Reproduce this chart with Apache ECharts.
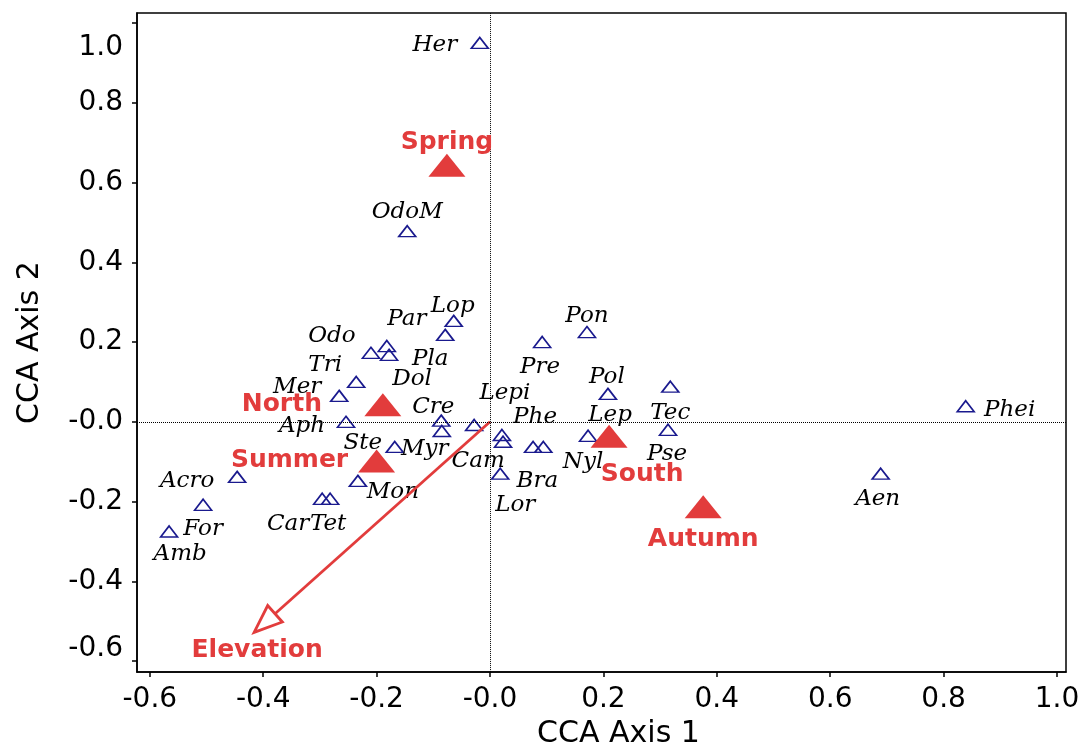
<!DOCTYPE html>
<html>
<head>
<meta charset="utf-8">
<script src="https://cdn.jsdelivr.net/npm/echarts@6/dist/echarts.min.js"></script>
<style>
html,body{margin:0;padding:0;background:#fff;}
#chart{width:1087px;height:754px;}
</style>
</head>
<body>
<div id="chart"></div>
<script>
// ---- data ----
const speciesNames = ['Her','OdoM','Lop','Pla','Par','Odo','Dol','Tri','Mer','Aph','Cre','Myr','Cam','Ste','Acro','Mon','Car','Tet','For','Amb',
  'Pre','Pon','Pol','Tec','Lepi','Phe','Nyl','Bra','Lep','Pse','Lor','Aen','Phei'];
const speciesX = [-0.018,-0.146,-0.064,-0.079,-0.182,-0.210,-0.178,-0.236,-0.266,-0.254,-0.086,-0.085,-0.028,-0.168,-0.446,-0.233,-0.296,-0.282,-0.506,-0.566,
  0.092,0.171,0.208,0.318,0.021,0.023,0.076,0.094,0.173,0.314,0.018,0.689,0.839];
const speciesY = [0.950,0.478,0.253,0.218,0.190,0.173,0.168,0.100,0.065,0.000,0.003,-0.023,-0.008,-0.063,-0.138,-0.148,-0.193,-0.193,-0.208,-0.275,
  0.200,0.225,0.070,0.088,-0.033,-0.050,-0.063,-0.063,-0.035,-0.020,-0.130,-0.130,0.039];

const envNames = ['Spring','North','Summer','South','Autumn'];
const envX = [-0.076,-0.189,-0.200,0.210,0.376];
const envY = [0.643,0.043,-0.098,-0.036,-0.213];

const gradientName = 'Elevation';
const gradientEnd = [-0.416,-0.528];

const xTicks = [-0.6,-0.4,-0.2,0,0.2,0.4,0.6,0.8,1.0];
const xTickLabels = ['-0.6','-0.4','-0.2','-0.0','0.2','0.4','0.6','0.8','1.0'];
const yTicks = [-0.6,-0.4,-0.2,0,0.2,0.4,0.6,0.8,1.0];
const yTickLabels = ['-0.6','-0.4','-0.2','-0.0','0.2','0.4','0.6','0.8','1.0'];

// ---- layout (label offsets in px, styling only) ----
const speciesLabelOffsets = [[-45,2],[0,-19],[-1,-15],[-15,24],[20,-27],[-39,-17],[23,24],[-31,-17],[-42,-9],[-44,4],[-8,-14],[-17,18],[4,36],[-32,-4],[-50,4],[35,11],[-34,25],[-2,25],[0,24],[11,23],
  [-2,25],[0,-16],[-1,-17],[0,26],[3,-42],[32,-25],[50,15],[-6,34],[22,-21],[-1,24],[15,31],[-3,25],[44,4]];
const envLabelOffsets = [[0,-23],[-101,0],[-87,0],[33,38],[0,33]];
const gradientLabelOffset = [3,18];

const RED = '#e23c3c';
const NAVY = '#1a1a8e';
const AX_FONT = 'DejaVu Sans';

function labelFor(ticks, labels, v){
  for (let i=0;i<ticks.length;i++) if (Math.abs(ticks[i]-v)<1e-9) return labels[i];
  return '';
}

const speciesData = speciesNames.map((n,i)=>({
  name:n, value:[speciesX[i],speciesY[i]],
  label:{offset:speciesLabelOffsets[i]}
}));
const envData = envNames.map((n,i)=>({
  name:n, value:[envX[i],envY[i]],
  label:{offset:envLabelOffsets[i]}
}));

const chart = echarts.init(document.getElementById('chart'));
const tickStyle = {fontSize:28,fontFamily:AX_FONT,color:'#000'};
chart.setOption({
  animation:false,
  backgroundColor:'#fff',
  grid:{left:137,top:13,right:21,bottom:80,show:true,borderColor:'#000',borderWidth:1.5,containLabel:false},
  xAxis:{
    type:'value', min:-0.6226, max:1.0159,
    name:'CCA Axis 1', nameLocation:'middle', nameGap:44,
    nameTextStyle:{fontSize:30,fontFamily:AX_FONT,color:'#000',padding:[0,0,0,34]},
    axisLine:{show:true,onZero:false,lineStyle:{color:'#000',width:1.5}},
    axisTick:{show:true,length:5,customValues:xTicks,lineStyle:{color:'#000',width:1.5}},
    axisLabel:{customValues:xTicks,margin:14,fontSize:28,fontFamily:AX_FONT,color:'#000',
      formatter:v=>labelFor(xTicks,xTickLabels,v)},
    splitLine:{show:false}
  },
  yAxis:{
    type:'value', min:-0.6275, max:1.025,
    name:'CCA Axis 2', nameLocation:'middle', nameGap:92,
    nameTextStyle:{fontSize:30,fontFamily:AX_FONT,color:'#000'},
    axisLine:{show:true,onZero:false,lineStyle:{color:'#000',width:1.5}},
    axisTick:{show:true,length:5,customValues:yTicks,lineStyle:{color:'#000',width:1.5}},
    axisLabel:{customValues:yTicks,margin:14,fontSize:28,fontFamily:AX_FONT,color:'#000',
      formatter:function(v){
        const s = labelFor(yTicks,yTickLabels,v);
        if (Math.abs(v-yTicks[yTicks.length-1])<1e-9) return '{dn|'+s+'}';
        if (Math.abs(v-yTicks[0])<1e-9) return '{up|'+s+'}';
        return s;
      },
      rich:{
        dn:Object.assign({padding:[50,0,0,0]},tickStyle),
        up:Object.assign({padding:[0,0,24,0]},tickStyle)
      }
    },
    splitLine:{show:false}
  },
  series:[
    {
      type:'scatter', name:'species', z:3,
      symbol:'triangle', symbolSize:[17,11],
      itemStyle:{color:'rgba(255,255,255,0)',borderColor:NAVY,borderWidth:1.6,opacity:1},
      label:{show:true,position:'inside',formatter:'{b}',align:'center',verticalAlign:'middle',
        fontFamily:'DejaVu Serif',fontStyle:'italic',fontSize:23,color:'#000',opacity:1},
      emphasis:{disabled:true},
      data:speciesData,
      markLine:{
        silent:true, symbol:'none', label:{show:false},
        lineStyle:{type:'dotted',color:'#000',width:1,opacity:1},
        data:[{xAxis:0},{yAxis:0}]
      }
    },
    {
      type:'custom', name:gradientName, z:4,
      data:[gradientEnd],
      encode:{x:0,y:1},
      renderItem:function(params,api){
        const p0 = api.coord([0,0]);
        const p1 = api.coord([api.value(0),api.value(1)]);
        const dx = p1[0]-p0[0], dy = p1[1]-p0[1];
        const len = Math.sqrt(dx*dx+dy*dy);
        const ux = dx/len, uy = dy/len;
        const L = 28, W = 11;
        const bx = p1[0]-ux*L, by = p1[1]-uy*L;
        const nx = -uy, ny = ux;
        return {
          type:'group',
          children:[
            {type:'line',shape:{x1:p0[0],y1:p0[1],x2:bx,y2:by},style:{stroke:RED,lineWidth:2.8}},
            {type:'polygon',shape:{points:[[p1[0],p1[1]],[bx+nx*W,by+ny*W],[bx-nx*W,by-ny*W]]},
              style:{fill:'#fff',stroke:RED,lineWidth:2.8}},
            {type:'text',x:p1[0]+gradientLabelOffset[0],y:p1[1]+gradientLabelOffset[1],
              style:{text:gradientName,fill:RED,font:'bold 25px "DejaVu Sans"',align:'center',verticalAlign:'middle'}}
          ]
        };
      }
    },
    {
      type:'scatter', name:'environment', z:5,
      symbol:'triangle', symbolSize:[37,23],
      itemStyle:{color:RED,opacity:1},
      label:{show:true,position:'inside',formatter:'{b}',align:'center',verticalAlign:'middle',
        fontFamily:'DejaVu Sans',fontWeight:'bold',fontSize:25,color:RED,opacity:1},
      emphasis:{disabled:true},
      data:envData
    }
  ]
});
</script>
</body>
</html>
